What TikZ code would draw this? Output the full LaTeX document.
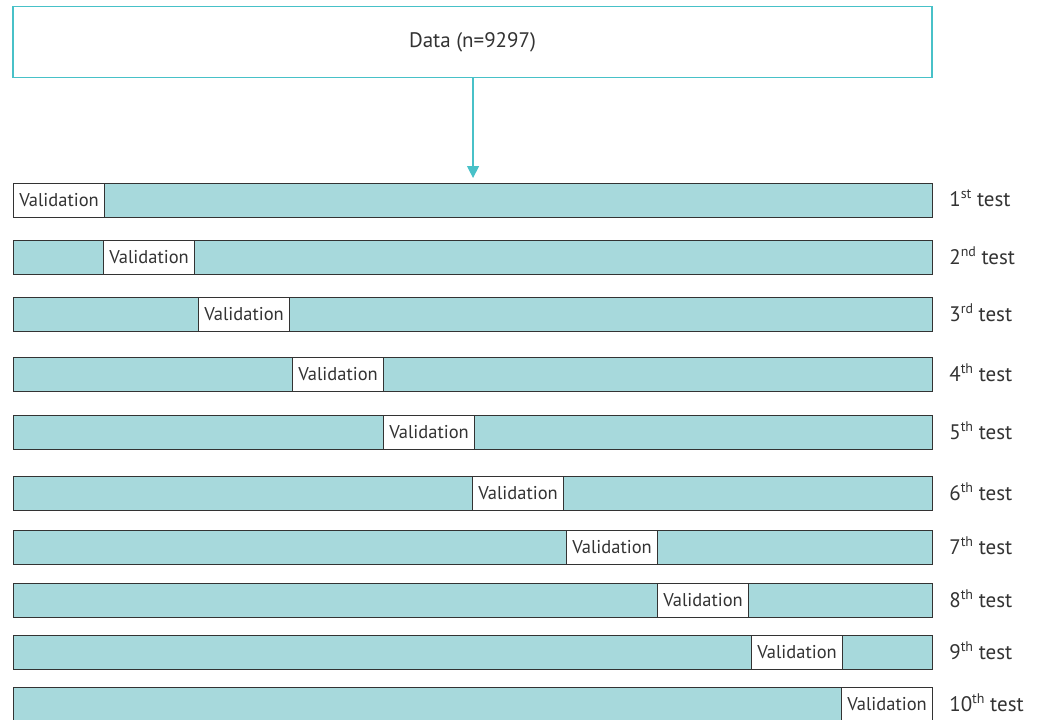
\documentclass[tikz,border=0pt]{standalone}
\usepackage{fontspec}
\setmainfont{PT Sans}
\usetikzlibrary{arrows.meta}
\definecolor{teal1}{HTML}{48C1C8}
\definecolor{barfill}{HTML}{A7D9DC}
\definecolor{ink}{HTML}{333333}
\newcommand{\supx}[1]{\raisebox{0.38em}{\fontsize{14pt}{14pt}\selectfont #1}}
\tikzset{
  databox/.style={draw=teal1, line width=1.2pt, fill=white, minimum width=919pt, minimum height=71pt, inner sep=0pt, text=ink, font=\fontsize{21pt}{24pt}\selectfont},
  bar/.style={draw=ink, line width=1.1pt, fill=barfill, minimum width=919pt, minimum height=33.5pt, inner sep=0pt, anchor=north west},
  valbox/.style={draw=ink, line width=1.1pt, fill=white, minimum width=91pt, minimum height=33.5pt, inner sep=0pt, anchor=north west, text=ink, font=\fontsize{18.5pt}{20pt}\selectfont},
  lbl/.style={anchor=west, inner sep=0pt, text=ink, font=\fontsize{21pt}{24pt}\selectfont},
  flow/.style={draw=teal1, line width=1.2pt, -{Triangle[length=12pt,width=12pt]}}
}
\begin{document}
\begin{tikzpicture}[x=1pt,y=-1pt]
\useasboundingbox (0,0) rectangle (1037,720);
\node[databox] (data) at (472.5,42) {Data (n=9297)};
\foreach \i/\t/\vx/\s in {1/183/13/st,2/240/103/nd,3/297/198/rd,4/357/292/th,5/415/383/th,6/476/472/th,7/530/566/th,8/583/657/th,9/635/751/th,10/687/841/th}{
  \node[bar] (b\i) at (13,\t) {};
  \node[valbox] (v\i) at (\vx,\t) {Validation};
  \node[lbl] (l\i) at ([xshift=16pt,yshift=2pt]b\i.east) {\i\supx{\s} test};
}
\draw[flow, shorten >=5pt] (data.south -| b1.north) -- (b1.north);
\end{tikzpicture}
\end{document}
